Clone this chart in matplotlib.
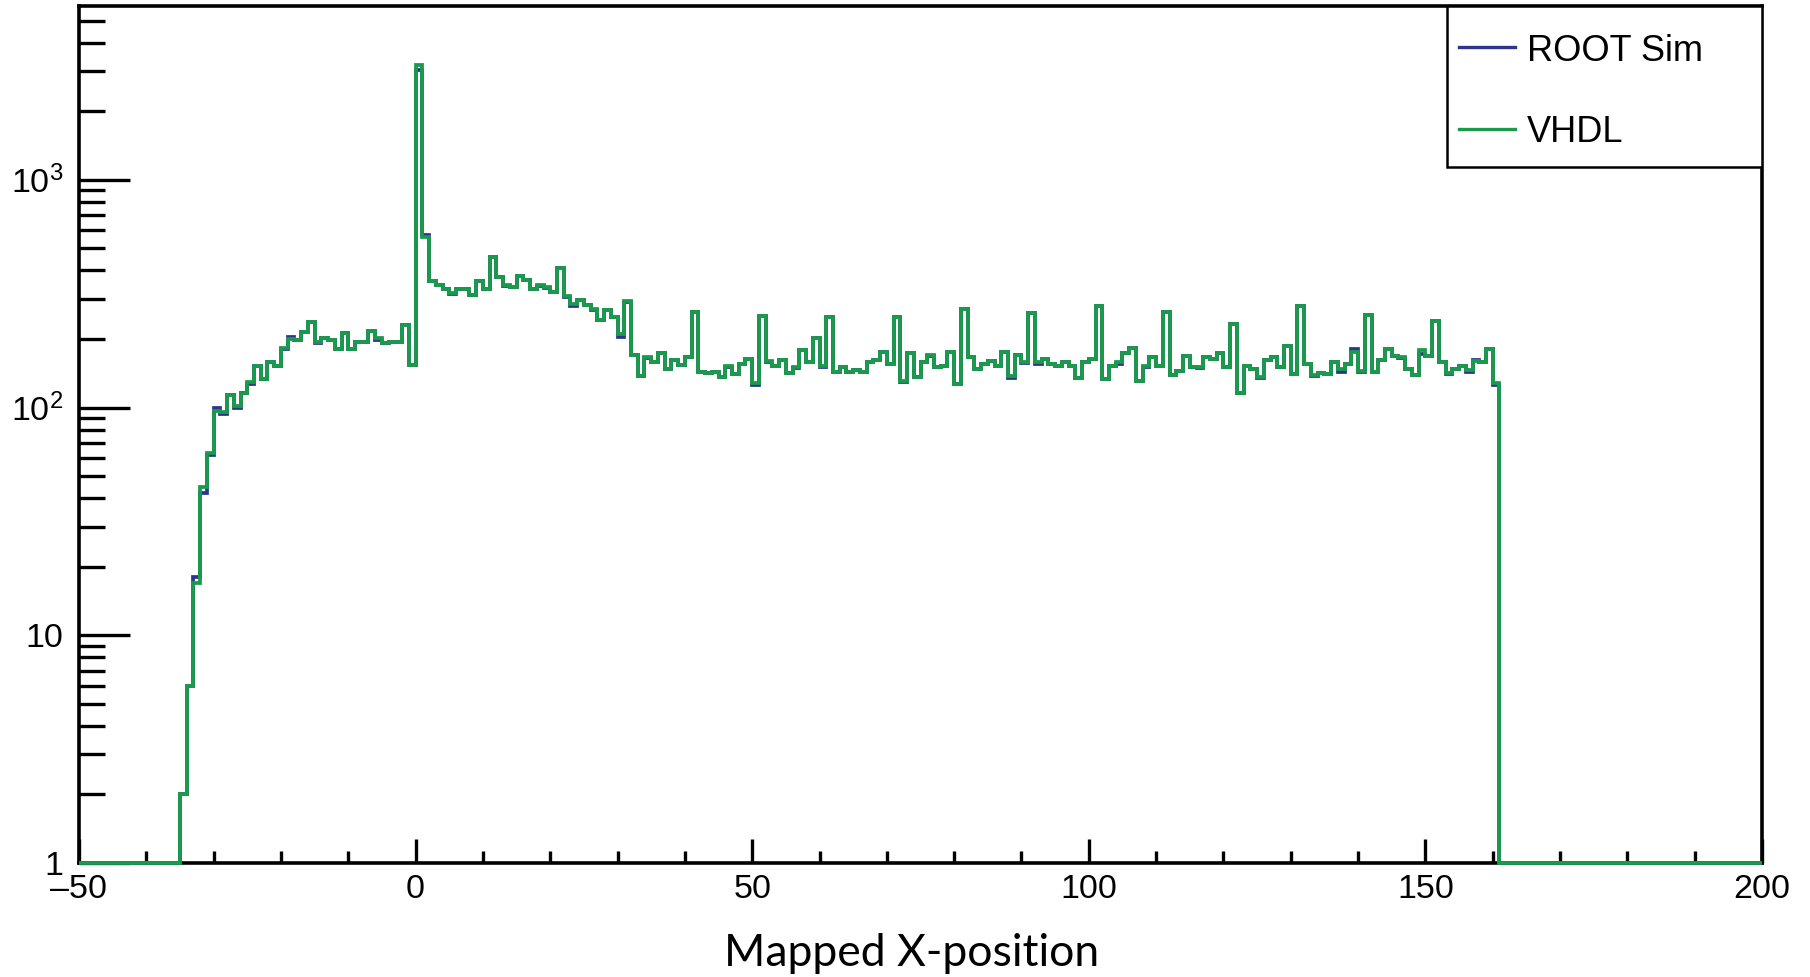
import numpy as np
import matplotlib
matplotlib.use("Agg")
import matplotlib.pyplot as plt
from matplotlib.ticker import FixedLocator, FixedFormatter, LogLocator, NullFormatter
from matplotlib.patches import Rectangle
from matplotlib.lines import Line2D

plt.rcParams["mathtext.fontset"] = "custom"
plt.rcParams["mathtext.rm"] = "Liberation Sans"

# histogram binning (unit bins), counts start at first_bin
bin_lo, bin_hi = -50, 200
first_bin = -35

vhdl_counts = [
    2, 6, 17, 45, 63, 97, 96, 114, 102, 116,
    130, 152, 134, 159, 153, 183, 200, 198, 215, 237,
    194, 202, 199, 180, 212, 180, 195, 195, 217, 202,
    192, 195, 195, 230, 154,
    3180, 561, 360, 347, 330, 317, 333, 333, 311, 360,
    333, 459, 375, 344, 339, 378, 362, 333, 344, 339,
    322, 410, 308, 286, 296, 281, 270, 242, 268, 250,
    210, 294, 170, 137, 167, 159, 174, 148, 161, 154,
    166, 263, 144, 142, 144, 136, 153, 141, 156, 164,
    128, 252, 160, 153, 161, 142, 151, 179, 159, 203,
    153, 250, 144, 151, 144, 146, 144, 159, 161, 176,
    155, 250, 131, 173, 136, 159, 170, 151, 153, 176,
    127, 272, 166, 147, 156, 160, 153, 176, 137, 171,
    159, 261, 159, 164, 156, 152, 158, 152, 135, 159,
    163, 279, 133, 153, 158, 173, 182, 131, 152, 166,
    153, 263, 139, 145, 168, 151, 151, 166, 164, 173,
    151, 232, 116, 153, 148, 136, 161, 166, 151, 186,
    140, 279, 156, 139, 142, 141, 159, 147, 155, 176,
    145, 255, 144, 161, 180, 169, 167, 148, 139, 179,
    169, 240, 159, 142, 148, 153, 146, 160, 159, 180,
    128,
]

root_counts = [
    2, 6, 18, 42, 62, 100, 94, 114, 100, 116,
    127, 152, 134, 159, 153, 180, 205, 198, 215, 237,
    192, 202, 199, 180, 212, 180, 195, 195, 217, 198,
    192, 195, 195, 230, 154,
    3050, 571, 360, 347, 330, 315, 333, 330, 311, 360,
    333, 459, 375, 342, 339, 378, 362, 333, 342, 336,
    322, 410, 305, 280, 296, 281, 268, 242, 268, 250,
    205, 292, 170, 137, 165, 159, 174, 148, 161, 154,
    166, 263, 144, 142, 144, 136, 151, 141, 156, 164,
    125, 252, 158, 153, 161, 142, 149, 179, 159, 203,
    150, 250, 144, 151, 144, 146, 144, 159, 161, 176,
    155, 250, 130, 173, 136, 159, 168, 151, 153, 176,
    127, 272, 166, 147, 156, 160, 153, 176, 135, 171,
    157, 261, 155, 164, 156, 152, 158, 152, 135, 159,
    163, 279, 133, 153, 156, 173, 182, 131, 150, 166,
    153, 263, 139, 145, 168, 151, 149, 166, 164, 173,
    151, 232, 116, 153, 148, 135, 161, 166, 151, 186,
    140, 279, 156, 137, 142, 141, 159, 144, 155, 180,
    143, 255, 144, 161, 180, 169, 165, 148, 139, 172,
    169, 240, 159, 140, 148, 153, 144, 161, 159, 180,
    125,
]

series_labels = ["ROOT Sim", "VHDL"]
series_colors = ["#2b3590", "#1a9b4b"]

x_ticks = [-50, 0, 50, 100, 150, 200]
x_tick_labels = ["\u201350", "0", "50", "100", "150", "200"]
y_ticks = [1, 10, 100, 1000]
y_tick_labels = ["1", "10", r"$\mathregular{10^{2}}$", r"$\mathregular{10^{3}}$"]
x_label = "Mapped X-position"


def full_hist(counts):
    h = np.zeros(bin_hi - bin_lo)
    start = first_bin - bin_lo
    h[start:start + len(counts)] = counts
    return h


edges = np.arange(bin_lo, bin_hi + 1)

W, H = 1810, 977
fig = plt.figure(figsize=(W / 100, H / 100), dpi=100)
ax = fig.add_axes([79 / W, 1 - 863 / H, (1762 - 79) / W, (863 - 6) / H])

ymin, ymax = 1, 5800
for counts, col in zip([root_counts, vhdl_counts], series_colors):
    h = np.clip(full_hist(counts), ymin, None)
    ax.stairs(h, edges, baseline=None, color=col, linewidth=2.7, zorder=3, clip_on=False)

ax.set_yscale("log")
ax.set_xlim(bin_lo, bin_hi)
ax.set_ylim(ymin, ymax)

ax.xaxis.set_major_locator(FixedLocator(x_ticks))
ax.xaxis.set_major_formatter(FixedFormatter(x_tick_labels))
ax.xaxis.set_minor_locator(FixedLocator(np.arange(bin_lo, bin_hi + 1, 10)))
ax.yaxis.set_major_locator(FixedLocator(y_ticks))
ax.yaxis.set_major_formatter(FixedFormatter(y_tick_labels))
ax.yaxis.set_minor_locator(LogLocator(base=10, subs=np.arange(2, 10)))
ax.yaxis.set_minor_formatter(NullFormatter())

ax.tick_params(axis="x", which="major", direction="in", length=17.5, width=2.4, pad=8)
ax.tick_params(axis="x", which="minor", direction="in", length=8.7, width=2.4)
ax.tick_params(axis="y", which="major", direction="in", length=37, width=2.4, pad=11)
ax.tick_params(axis="y", which="minor", direction="in", length=18.7, width=2.4)
for lab in ax.get_xticklabels() + ax.get_yticklabels():
    lab.set_fontfamily("Liberation Sans")
    lab.set_fontsize(24.5)

for sp in ax.spines.values():
    sp.set_linewidth(2.6)
    sp.set_color("black")

ax.set_xlabel(x_label, fontfamily="Lato", fontsize=32, labelpad=20)
ax.xaxis.label.set_x((912 - 79) / 1683)

# legend box in top right corner, ROOT style
ax.add_patch(Rectangle((0.8128, 0.8121), 1 - 0.8128, 1 - 0.8121, transform=ax.transAxes,
                       facecolor="white", edgecolor="black", linewidth=1.8, zorder=5))
for lab, col, y_line, y_text in zip(series_labels, series_colors, [0.9518, 0.8565], [0.947, 0.8524]):
    ax.add_line(Line2D([0.820, 0.853], [y_line, y_line], transform=ax.transAxes, color=col,
                       linewidth=2.4, zorder=6))
    ax.text(0.8604, y_text, lab, transform=ax.transAxes, va="center", ha="left",
            fontfamily="Liberation Sans", fontsize=26, zorder=6)

fig.savefig("out.png", dpi=100)
